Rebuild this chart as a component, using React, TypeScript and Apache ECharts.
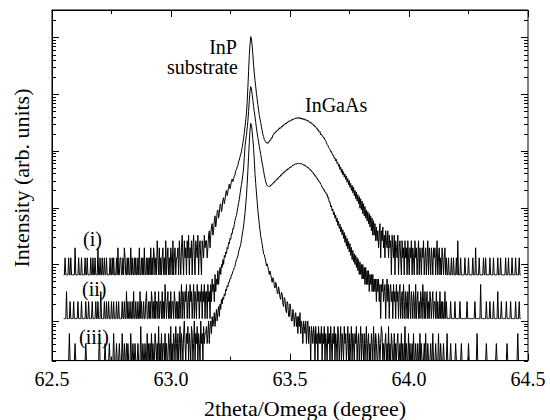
import { useEffect, useRef } from "react";
import * as echarts from "echarts";

// Scan grid (degrees)
const X_START = 62.549;
const X_STEP = 0.003;

// Display offsets (multipliers) for the three stacked scans
const SCALE_I = 65;
const SCALE_II = 11;
const SCALE_III = 2;

// Counts, one value per scan step (641 steps)
const countsI = [
  1,1,2,1,1,1,1,2,1,1, 2,1,1,1,1,1,3,1,1,1, 1,2,1,1,1,2,1,1,1,1, 2,1,1,2,1,1,1,1,2,1,
  1,2,1,1,2,1,1,1,3,1, 1,2,1,1,2,1,1,2,1,1, 2,1,1,1,1,2,1,1,2,1, 2,1,1,1,2,1,3,1,1,2,
  2,1,1,2,1,3,2,1,1,2, 1,2,1,1,3,1,2,1,1,2, 1,2,1,1,2,1,3,1,1,2, 1,2,1,3,1,1,2,1,2,1,
  2,1,3,1,2,1,3,2,1,2, 1,4,2,1,3,1,2,1,2,3, 1,2,1,4,1,2,3,1,2,1, 3,2,1,4,1,2,3,1,2,2,
  3,1,4,2,1,3,5,2,1,4, 2,3,1,4,2,5,1,3,2,4, 1,3,5,2,1,4,3,2,5,1, 3,4,2,1,4,3,2,5,3,4,
  4,2,3,5,6,3,5,7,8,5, 6,9,11,7,9,13,14,10,12,17, 18,13,15,21,23,18,21,27,31,25, 29,35,40,33,38,45,49,44,50,55,
  58,69,71,80,86,99,106,121,131,152, 176,212,252,320,418,540,690,1100,2010,3900, 7480,11800,15900,14500,11050,7600,4990,3600,2710,2080, 1590,1260,1010,800,648,560,482,410,351,300,
  275,244,230,226,210,218,208,221,222,241, 238,262,259,292,296,318,313,337,333,357, 351,377,372,396,384,414,405,437,425,456, 447,477,463,498,486,515,503,531,518,544,
  532,561,549,574,562,588,571,596,575,597, 566,593,561,586,552,578,547,566,534,551, 524,541,507,519,489,502,477,483,451,462, 428,437,405,412,382,386,352,361,327,337,
  296,305,283,279,259,262,238,231,214,200, 193,178,168,164,148,150,136,128,129,113, 116,102,109,92,96,82,88,72,80,64, 73,58,66,53,60,48,55,43,50,39,
  46,35,41,31,38,28,35,25,31,22, 29,20,26,18,24,15,22,14,20,12, 18,11,16,10,14,9,13,8,12,7, 11,6,10,5,9,5,8,4,7,4,
  6,3,5,8,2,6,4,7,3,5, 2,6,4,3,6,2,5,3,4,1, 5,3,2,5,1,4,3,2,5,1, 3,4,2,1,4,2,3,1,4,2,
  3,1,4,2,1,3,2,4,1,3, 2,1,4,2,3,1,2,4,1,3, 2,1,3,2,4,1,2,3,1,2, 4,1,3,2,1,3,2,1,3,2,
  3,1,2,4,1,2,3,1,2,1, 3,2,1,2,3,1,2,1,1,2, 1,1,1,2,1,1,2,1,1,1, 2,1,4,1,1,1,2,1,1,1,
  1,1,2,1,1,1,1,2,1,1, 1,1,1,2,1,1,1,3,1,1, 1,1,2,1,1,1,1,1,2,1, 1,2,1,1,1,1,1,2,1,1,
  1,1,2,1,1,1,1,1,2,1, 1,1,2,1,1,1,1,1,1,2, 1,1,1,2,1,1,1,1,2,1, 1,1,1,2,1,1,1,1,2,1,
  1,
];

const countsII = [
  1,1,1,1,3,1,1,1,1,2, 1,1,1,1,2,1,1,1,1,1, 2,1,1,1,1,2,1,1,1,1, 1,2,1,1,1,2,1,1,1,1,
  2,1,1,1,1,2,1,1,2,1, 1,1,3,1,1,1,1,2,1,1, 2,1,1,2,1,1,1,2,1,1, 2,1,1,1,2,1,1,2,1,1,
  1,1,2,1,1,2,1,1,3,1, 2,1,1,2,1,1,2,1,3,1, 1,2,1,1,2,1,1,3,1,2, 1,1,2,1,1,2,3,1,1,2,
  1,2,1,3,2,1,2,1,3,1, 2,2,1,3,1,2,2,1,3,1, 2,1,4,2,1,2,3,1,2,1, 3,1,2,2,1,3,2,1,2,1,
  2,1,3,1,2,4,1,3,2,1, 3,2,4,1,2,3,1,4,2,3, 1,2,4,1,3,2,1,4,2,3, 1,3,2,4,1,3,2,4,1,3,
  3,1,4,2,3,1,4,2,5,3, 4,2,6,3,5,4,7,4,6,8, 6,9,8,11,9,13,12,15,14,18, 17,22,21,26,25,32,31,39,38,46,
  54,61,66,78,92,108,127,158,193,230, 276,350,455,700,1090,1400,1710,2300,3020,4500, 6980,10200,12360,11200,9010,7100,5490,4450,3610,2900, 2290,1880,1560,1300,1095,925,785,660,556,480,
  405,340,296,258,236,222,220,214,217,213, 226,224,239,236,254,251,270,265,287,281, 303,297,324,316,343,334,364,355,384,375, 404,394,421,412,441,432,461,452,481,473,
  486,513,504,531,519,543,529,552,536,556, 537,553,533,545,522,532,507,517,491,498, 474,481,453,459,431,435,406,410,381,383, 353,356,327,329,302,303,277,279,253,255,
  233,228,206,204,186,188,169,171,154,157, 135,138,113,116,94,98,80,86,68,75, 59,67,51,59,44,52,39,46,34,41, 30,37,26,33,22,29,19,26,17,23,
  15,21,13,18,11,16,10,14,9,13, 8,12,7,11,6,10,6,9,5,9, 5,8,4,8,4,7,4,7,3,6, 4,6,3,6,3,5,3,5,2,5,
  3,5,2,4,1,4,3,5,2,3, 4,1,3,5,2,4,1,3,4,2, 3,1,4,2,3,1,4,2,3,1, 3,4,1,2,3,1,4,2,1,3,
  2,1,3,1,4,2,1,3,2,1, 3,2,1,4,1,2,3,1,2,1, 3,2,1,4,2,1,3,1,2,3, 1,2,1,3,2,1,2,3,1,2,
  2,1,3,1,2,1,1,3,1,2, 1,2,1,1,3,1,2,1,1,1, 1,1,2,1,1,1,1,1,2,1, 1,1,1,1,1,2,1,1,1,1,
  1,1,1,1,1,2,1,1,1,1, 1,1,1,1,1,1,2,1,1,1, 1,1,1,1,4,1,1,1,1,1, 1,1,2,1,1,1,1,2,1,1,
  1,1,2,1,1,1,1,1,3,1, 1,1,1,2,1,1,1,1,1,1, 2,1,1,1,1,1,2,1,1,1, 1,1,1,2,1,1,1,1,2,1,
  1,
];

const countsIII = [
  1,1,1,1,1,1,1,1,3,1, 1,1,1,1,1,1,2,1,1,1, 1,1,1,1,1,1,1,1,1,1, 1,2,1,1,1,1,1,1,1,1,
  1,1,1,1,1,1,1,1,1,1, 3,1,1,1,1,1,1,1,2,1, 1,1,1,1,2,1,1,1,1,1, 3,1,1,1,2,1,1,1,2,1,
  1,1,3,1,1,2,1,1,2,1, 2,1,1,1,3,1,1,2,1,1, 2,1,1,1,2,1,1,1,4,1, 1,2,1,1,2,1,1,3,1,2,
  1,2,1,3,1,2,1,1,3,2, 1,2,1,4,1,2,1,3,1,2, 2,1,3,1,2,1,1,3,2,1, 4,1,2,1,3,2,1,4,2,1,
  3,1,2,4,1,3,2,1,3,5, 2,1,3,2,4,1,3,2,1,4, 3,1,2,5,1,3,2,4,1,3, 2,1,5,2,3,1,4,2,3,3,
  4,2,3,5,2,4,5,3,6,4, 5,7,4,6,8,5,7,9,6,10, 8,12,10,13,12,15,14,18,17,21, 20,24,24,28,28,33,33,38,39,44,
  46,54,60,64,70,82,93,101,112,135, 164,195,236,305,405,560,795,1300,2210,4100, 7010,11500,15300,14000,10980,8000,5520,3400,1990,1330, 905,640,446,340,255,200,156,133,113,94,
  76,74,65,57,47,51,45,39,33,38, 33,28,24,29,27,21,19,24,22,16, 15,20,17,13,12,16,15,10,9,13, 12,8,7,11,10,6,6,10,8,5,
  5,8,7,4,6,7,4,6,3,6, 4,7,3,5,4,2,5,4,3,5, 2,4,5,2,4,3,1,4,3,2, 4,3,1,4,2,3,1,4,2,3,
  2,4,1,3,2,4,1,3,2,1, 4,2,3,1,4,2,1,3,2,4, 1,3,2,1,4,3,1,2,4,1, 3,2,1,4,2,3,1,2,4,1,
  3,1,2,4,1,3,2,1,3,2, 4,1,2,3,1,2,4,1,3,2, 1,3,1,2,4,1,2,3,1,2, 1,3,2,1,4,2,1,3,2,1,
  1,3,2,1,2,4,3,1,2,1, 2,3,1,2,1,4,1,2,1,3, 2,1,1,3,1,2,1,2,3,1, 1,2,1,3,1,2,1,1,4,1,
  2,1,1,3,1,2,1,1,2,1, 3,1,1,2,1,1,2,1,1,3, 1,2,1,1,1,2,1,3,1,1, 2,1,1,1,2,1,1,3,1,1,
  1,2,1,1,1,3,1,1,2,1, 1,1,2,1,1,1,1,3,1,1, 1,1,2,1,1,1,1,1,1,2, 1,1,1,1,1,1,1,2,1,1,
  1,1,1,1,1,1,1,2,1,1, 1,1,1,1,1,1,1,1,1,3, 1,1,1,1,1,1,1,1,1,1, 1,1,2,1,1,1,1,1,1,1,
  1,1,1,1,1,1,2,1,1,1, 1,1,1,1,1,1,1,1,1,1, 1,2,1,1,1,1,1,1,1,1, 1,1,1,1,1,1,3,1,1,1,
  1,
];

// Axes
const X_MIN = 62.5;
const X_MAX = 64.5;
const X_INTERVAL = 0.5;
const Y_MIN = 2;
const Y_MAX = 3.05e6;
const Y_DECADES = [1, 10, 100, 1000, 10000, 100000, 1000000];
const Y_MULTIPLIERS = [1, 2, 3, 4, 5, 6, 7, 8, 9];

// Texts
const X_TITLE = "2theta/Omega (degree)";
const Y_TITLE = "Intensity (arb. units)";
const PEAK_LABELS = ["InP", "substrate", "InGaAs"];
const SERIES_LABELS = ["(i)", "(ii)", "(iii)"];

const FONT = "Liberation Serif";

function buildSeries(counts: number[], scale: number) {
  return counts.map((c, i) => [
    Number((X_START + i * X_STEP).toFixed(3)),
    c * scale,
  ]);
}

function buildYTicks() {
  const out: number[][] = [];
  for (const d of Y_DECADES) {
    for (const m of Y_MULTIPLIERS) {
      const v = d * m;
      if (v >= Y_MIN && v <= Y_MAX) out.push([X_MIN, v, m === 1 ? 1 : 0]);
    }
  }
  return out;
}

export default function App() {
  const ref = useRef<HTMLDivElement>(null);

  useEffect(() => {
    if (!ref.current) return;
    const chart = echarts.init(ref.current, undefined, { renderer: "svg" });

    const lineStyle = { color: "#000", width: 1 };
    const xAxisBase = {
      type: "value" as const,
      min: X_MIN,
      max: X_MAX,
      interval: X_INTERVAL,
      axisLine: { show: true, lineStyle },
      axisTick: { show: true, inside: true, length: 7, lineStyle },
      minorTick: { show: true, splitNumber: 2, length: 4, lineStyle },
      splitLine: { show: false },
      minorSplitLine: { show: false },
    };

    const lineSeries = (name: string, data: number[][]) => ({
      name,
      type: "line" as const,
      data,
      showSymbol: false,
      symbol: "none",
      lineStyle: { color: "#000", width: 1 },
      itemStyle: { color: "#000" },
      silent: true,
      z: 3,
    });

    const textEl = (
      text: string,
      x: number,
      y: number,
      size: number,
      align: string,
      rotation = 0
    ) => ({
      type: "text",
      x,
      y,
      rotation,
      silent: true,
      style: {
        text,
        fill: "#000",
        font: `${size}px "${FONT}"`,
        fontFamily: FONT,
        fontSize: size,
        align,
        verticalAlign: "middle",
        textAlign: align,
        textVerticalAlign: "middle",
      },
    });

    chart.setOption({
      animation: false,
      backgroundColor: "#fff",
      textStyle: { fontFamily: FONT },
      grid: {
        left: 52,
        right: 22,
        top: 10,
        bottom: 59.4,
        show: true,
        borderColor: "#000",
        borderWidth: 1,
        backgroundColor: "transparent",
      },
      xAxis: [
        {
          ...xAxisBase,
          position: "bottom",
          axisLabel: {
            show: true,
            color: "#000",
            fontSize: 20,
            fontFamily: FONT,
            margin: 8,
            formatter: (v: number) => v.toFixed(1),
          },
        },
        {
          ...xAxisBase,
          position: "top",
          axisLabel: { show: false },
        },
      ],
      yAxis: {
        type: "log",
        logBase: 10,
        min: Y_MIN,
        max: Y_MAX,
        axisLine: { show: true, lineStyle },
        axisTick: { show: false },
        axisLabel: { show: false },
        splitLine: { show: false },
        minorTick: { show: false },
      },
      series: [
        lineSeries("iii", buildSeries(countsIII, SCALE_III)),
        lineSeries("ii", buildSeries(countsII, SCALE_II)),
        lineSeries("i", buildSeries(countsI, SCALE_I)),
        {
          type: "custom",
          name: "yticks",
          silent: true,
          z: 5,
          data: buildYTicks(),
          encode: { x: 0, y: 1 },
          renderItem: (params: any, api: any) => {
            const v = api.value(1);
            const major = api.value(2) === 1;
            const p = api.coord([X_MIN, v]);
            const cs = params.coordSys;
            const len = major ? 7 : 4;
            const y = Math.round(p[1]) + 0.5;
            const style = { stroke: "#000", lineWidth: 1 };
            return {
              type: "group",
              children: [
                { type: "line", shape: { x1: cs.x, y1: y, x2: cs.x + len, y2: y }, style },
                {
                  type: "line",
                  shape: { x1: cs.x + cs.width - len, y1: y, x2: cs.x + cs.width, y2: y },
                  style,
                },
              ],
            };
          },
        },
      ],
      graphic: [
        textEl(PEAK_LABELS[0], 237, 46.5, 20, "right"),
        textEl(PEAK_LABELS[1], 238, 67, 20, "right"),
        textEl(PEAK_LABELS[2], 305, 105, 20, "left"),
        textEl(SERIES_LABELS[0], 83, 239, 20, "left"),
        textEl(SERIES_LABELS[1], 82, 289, 20, "left"),
        textEl(SERIES_LABELS[2], 79, 337, 20, "left"),
        textEl(X_TITLE, 305, 408, 22, "center"),
        textEl(Y_TITLE, 21, 178, 22, "center", Math.PI / 2),
      ],
    });

    return () => chart.dispose();
  }, []);

  return (
    <div
      ref={ref}
      style={{ position: "fixed", left: 0, top: 0, width: 550, height: 420, background: "#fff" }}
    />
  );
}
